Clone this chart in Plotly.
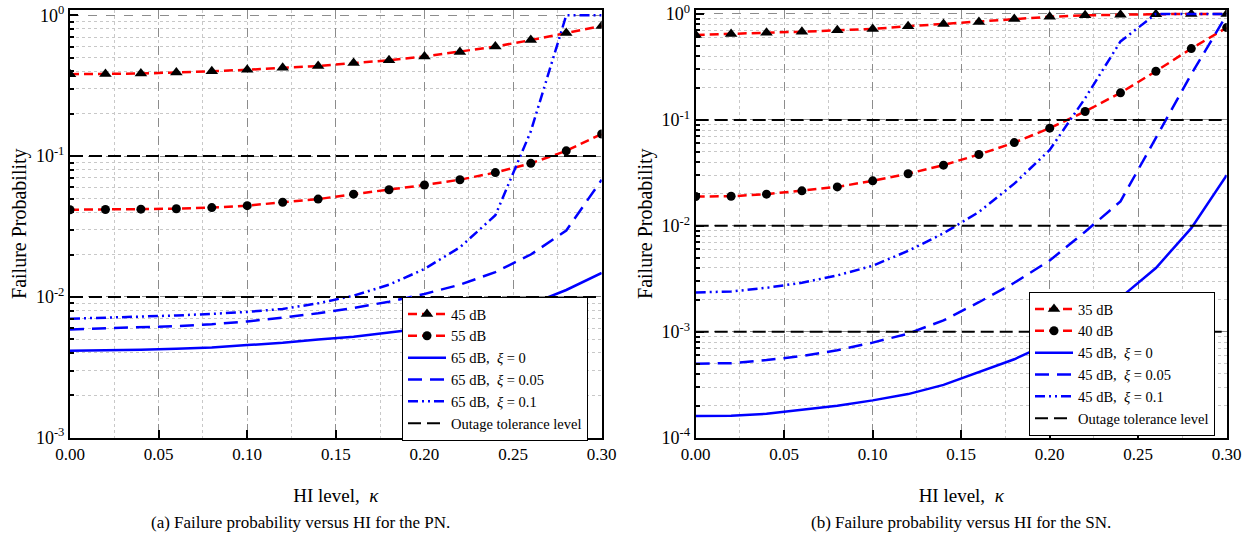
import plotly.graph_objects as go

# ---------------- data ----------------
kappa = [0.00, 0.02, 0.04, 0.06, 0.08, 0.10, 0.12, 0.14, 0.16, 0.18, 0.20, 0.22, 0.24, 0.26, 0.28, 0.30]

# (a) PN
pn_45db = [0.382, 0.383, 0.386, 0.393, 0.400, 0.410, 0.424, 0.436, 0.458, 0.480, 0.510, 0.550, 0.600, 0.667, 0.750, 0.840]
pn_55db = [0.0416, 0.0418, 0.0420, 0.0423, 0.0431, 0.0445, 0.0470, 0.0495, 0.0537, 0.0577, 0.0623, 0.0680, 0.0764, 0.0889, 0.1090, 0.1436]
pn_65db_xi0 = [0.00415, 0.00417, 0.00421, 0.00428, 0.00438, 0.00455, 0.00472, 0.00498, 0.00522, 0.00558, 0.00600, 0.00660, 0.00750, 0.00890, 0.01120, 0.01480]
pn_65db_xi005 = [0.00588, 0.00597, 0.00608, 0.00620, 0.00640, 0.00670, 0.00712, 0.00765, 0.00835, 0.00925, 0.01050, 0.01220, 0.01500, 0.02000, 0.02960, 0.06800]
pn_65db_xi01 = [0.00700, 0.00710, 0.00722, 0.00738, 0.00758, 0.00782, 0.00822, 0.00900, 0.01020, 0.01220, 0.01580, 0.02250, 0.03800, 0.15000, 1.0, 1.0]
pn_outage = [0.1, 0.01]

# (b) SN
sn_35db = [0.634, 0.647, 0.666, 0.680, 0.700, 0.722, 0.765, 0.805, 0.840, 0.897, 0.940, 0.970, 0.985, 0.995, 0.998, 0.999]
sn_40db = [0.0189, 0.0190, 0.0199, 0.0214, 0.0233, 0.0266, 0.0310, 0.0374, 0.0471, 0.0610, 0.0835, 0.1200, 0.1800, 0.2880, 0.4710, 0.7430]
sn_45db_xi0 = [0.000160, 0.000161, 0.000168, 0.000182, 0.000200, 0.000225, 0.000258, 0.000315, 0.000415, 0.000550, 0.000780, 0.001250, 0.002100, 0.004000, 0.009500, 0.030000]
sn_45db_xi005 = [0.000500, 0.000505, 0.000540, 0.000590, 0.000670, 0.000790, 0.000960, 0.001280, 0.001900, 0.002900, 0.004700, 0.008800, 0.017000, 0.068000, 0.270000, 0.980000]
sn_45db_xi01 = [0.00235, 0.00240, 0.00260, 0.00290, 0.00340, 0.00420, 0.00580, 0.00850, 0.01350, 0.02500, 0.05200, 0.16000, 0.55000, 1.0, 1.0, 1.0]
sn_outage = [0.1, 0.01, 0.001]

x_ticks = [0.00, 0.05, 0.10, 0.15, 0.20, 0.25, 0.30]
pn_decades = [-3, -2, -1, 0]
sn_decades = [-4, -3, -2, -1, 0]

# ---------------- styling ----------------
FONT = "Times New Roman, Liberation Serif, Times, serif"
W, H = 1251, 542
RED = "#ff0000"
BLUE = "#0000ff"
DASH_RED = "9px,5px"
DASH_BLUE = "14px,8px"
DASH_DDOT = "10px,4px,2px,4px,2px,4px"
DASH_BLACK = "13px,6px"


def fp(px, total):
    return px / total


fig = go.Figure()


def add_panel(xa, ya, legend, names, series, outage):
    styles = [
        dict(mode="lines+markers", line=dict(color=RED, width=2.5, dash=DASH_RED),
             marker=dict(symbol="triangle-up", size=11, color="black")),
        dict(mode="lines+markers", line=dict(color=RED, width=2.5, dash=DASH_RED),
             marker=dict(symbol="circle", size=9, color="black")),
        dict(mode="lines", line=dict(color=BLUE, width=2.5)),
        dict(mode="lines", line=dict(color=BLUE, width=2.5, dash=DASH_BLUE)),
        dict(mode="lines", line=dict(color=BLUE, width=2.5, dash=DASH_DDOT)),
    ]
    for name, ys, st in zip(names, series, styles):
        fig.add_trace(go.Scatter(x=kappa, y=ys, name=name, xaxis=xa, yaxis=ya,
                                 legend=legend, cliponaxis=True, **st))
    ox, oy = [], []
    for lvl in outage:
        ox += [kappa[0], kappa[-1], None]
        oy += [lvl, lvl, None]
    fig.add_trace(go.Scatter(x=ox, y=oy, mode="lines", name="Outage tolerance level",
                             line=dict(color="black", width=2, dash=DASH_BLACK),
                             xaxis=xa, yaxis=ya, legend=legend))


add_panel("x", "y", "legend",
          ["45 dB", "55 dB", "65 dB,  <i>ξ</i> = 0", "65 dB,  <i>ξ</i> = 0.05", "65 dB,  <i>ξ</i> = 0.1"],
          [pn_45db, pn_55db, pn_65db_xi0, pn_65db_xi005, pn_65db_xi01], pn_outage)
add_panel("x2", "y2", "legend2",
          ["35 dB", "40 dB", "45 dB,  <i>ξ</i> = 0", "45 dB,  <i>ξ</i> = 0.05", "45 dB,  <i>ξ</i> = 0.1"],
          [sn_35db, sn_40db, sn_45db_xi0, sn_45db_xi005, sn_45db_xi01], sn_outage)


def xaxis_cfg(domain):
    return dict(
        domain=domain, range=[0, 0.30], tickvals=x_ticks, tickformat=".2f",
        ticks="inside", ticklen=8, tickwidth=2, tickcolor="black",
        showline=True, linecolor="black", linewidth=2, mirror=True,
        showgrid=True, gridcolor="#8c8c8c", griddash="dash", gridwidth=1,
        minor=dict(dtick=0.025, tick0=0, ticks="", showgrid=True,
                   gridcolor="#c8c8c8", griddash="dot", gridwidth=1),
        tickfont=dict(family=FONT, size=17, color="black"),
        title=dict(text="HI level,  <i>κ</i>", font=dict(family=FONT, size=19, color="black"),
                   standoff=26),
        zeroline=False, automargin=False,
    )


def yaxis_cfg(domain, decades, anchor):
    tv = [10.0 ** d for d in decades]
    tt = ["10<sup>%d</sup>" % d for d in decades]
    minor_vals = [m * 10.0 ** d for d in decades[:-1] for m in range(2, 10)]
    top = decades[-1] + 0.04
    return dict(
        domain=domain, type="log", range=[decades[0], top], anchor=anchor,
        tickvals=tv, ticktext=tt,
        ticks="inside", ticklen=8, tickwidth=2, tickcolor="black",
        showline=True, linecolor="black", linewidth=2, mirror=True,
        showgrid=True, gridcolor="#8c8c8c", griddash="dash", gridwidth=1,
        minor=dict(tickmode="array", tickvals=minor_vals, ticks="inside", ticklen=4,
                   tickwidth=1.5, tickcolor="black", showgrid=True,
                   gridcolor="#c8c8c8", griddash="dot", gridwidth=1),
        tickfont=dict(family=FONT, size=18, color="black"),
        title=dict(text="Failure Probability", font=dict(family=FONT, size=20, color="black"),
                   standoff=4),
        zeroline=False, automargin=False,
    )


ydom = [1 - fp(437.7, H), 1 - fp(9.7, H)]
legend_common = dict(
    bgcolor="white", bordercolor="black", borderwidth=1,
    font=dict(family=FONT, size=14.5, color="black"),
    xanchor="left", yanchor="top", itemwidth=38, tracegroupgap=0,
    itemclick=False,
)

fig.update_layout(
    width=W, height=H,
    margin=dict(l=0, r=0, t=0, b=0),
    paper_bgcolor="white", plot_bgcolor="white",
    font=dict(family=FONT, color="black"),
    xaxis=xaxis_cfg([fp(70, W), fp(601.7, W)]),
    yaxis=yaxis_cfg(ydom, pn_decades, "x"),
    xaxis2=dict(xaxis_cfg([fp(695.7, W), fp(1226.7, W)]), anchor="y2"),
    yaxis2=yaxis_cfg(ydom, sn_decades, "x2"),
    legend=dict(legend_common, x=fp(402, W), y=1 - fp(297, H)),
    legend2=dict(legend_common, x=fp(1029, W), y=1 - fp(292, H)),
    showlegend=True,
    annotations=[
        dict(text="(a) Failure probability versus HI for the PN.", x=fp(300, W), y=1 - fp(522, H),
             xref="paper", yref="paper", showarrow=False, xanchor="center", yanchor="middle",
             font=dict(family=FONT, size=17, color="black")),
        dict(text="(b) Failure probability versus HI for the SN.", x=fp(961, W), y=1 - fp(522, H),
             xref="paper", yref="paper", showarrow=False, xanchor="center", yanchor="middle",
             font=dict(family=FONT, size=17, color="black")),
    ],
)

fig.write_html("out.html", config={"displayModeBar": False},
               post_script="document.body.style.margin='0px';")
